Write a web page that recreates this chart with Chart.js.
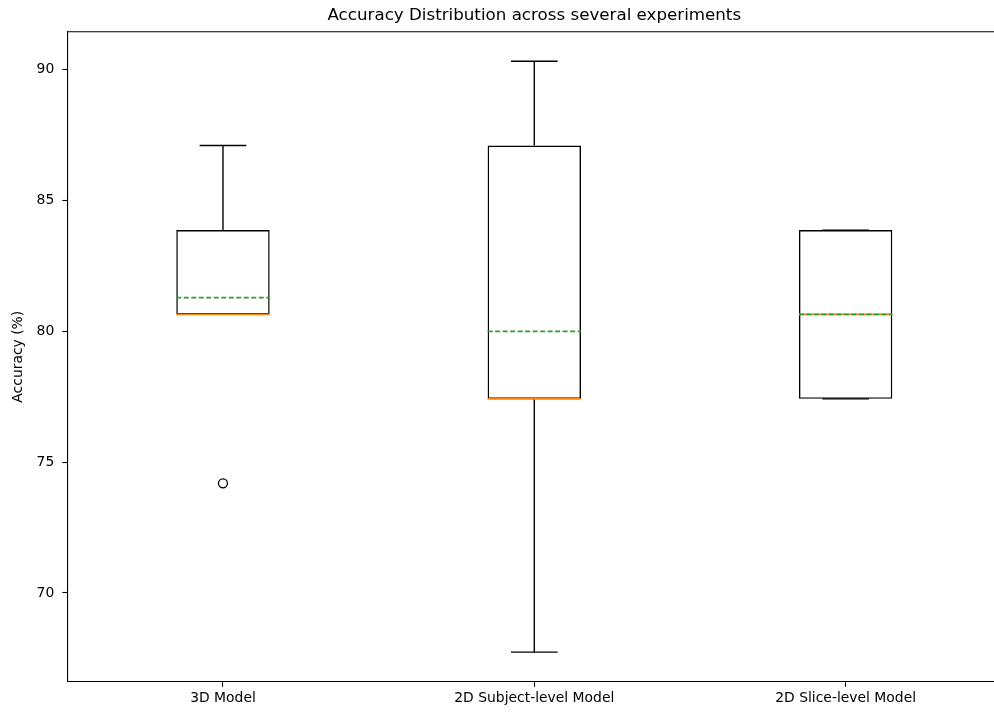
<!DOCTYPE html>
<html lang="en">
<head>
    <meta charset="UTF-8">
    <title>Accuracy Distribution</title>
    <script src="https://cdn.jsdelivr.net/npm/chart.js"></script>
    <style>
        body {
            margin: 0;
            overflow: hidden;
            background: #fff;
        }
        /* wider than the window: the right spine falls off the picture like in the original */
        .chart-box {
            width: 1010px;
            height: 713px;
        }
    </style>
</head>
<body>
    <div class="chart-box">
        <canvas id="boxChart"></canvas>
    </div>

    <script>
        const categories = ['3D Model', '2D Subject-level Model', '2D Slice-level Model'];
        const whiskerLow = [80.65, 67.74, 77.42];
        const q1 = [80.65, 77.42, 77.42];
        const median = [80.65, 77.42, 80.65];
        const q3 = [83.87, 87.10, 83.87];
        const whiskerHigh = [87.10, 90.32, 83.87];
        const means = [81.29, 80.00, 80.65];
        const outliers = [[74.19], [], []];
        const yTicks = [70, 75, 80, 85, 90];
        const yMin = 66.61;
        const yMax = 91.45;

        const boxWidth = 0.3;  // in category units, like matplotlib default
        const capWidth = 0.15;

        const font = "'DejaVu Sans', sans-serif";

        // whiskers, caps, median and mean lines + top spine
        const boxParts = {
            id: 'boxParts',
            afterDatasetsDraw(chart) {
                const ctx = chart.ctx;
                const xs = chart.scales.x;
                const ys = chart.scales.y;
                const unit = xs.getPixelForValue(1) - xs.getPixelForValue(0);
                const area = chart.chartArea;

                ctx.save();
                categories.forEach((c, i) => {
                    const x = xs.getPixelForValue(i);
                    const bx0 = x - unit * boxWidth / 2, bx1 = x + unit * boxWidth / 2;
                    const cx0 = x - unit * capWidth / 2, cx1 = x + unit * capWidth / 2;

                    ctx.strokeStyle = '#000';
                    ctx.lineWidth = 1.4;
                    ctx.setLineDash([]);
                    ctx.beginPath();
                    ctx.moveTo(x, ys.getPixelForValue(q3[i]));
                    ctx.lineTo(x, ys.getPixelForValue(whiskerHigh[i]));
                    ctx.moveTo(x, ys.getPixelForValue(q1[i]));
                    ctx.lineTo(x, ys.getPixelForValue(whiskerLow[i]));
                    ctx.moveTo(cx0, ys.getPixelForValue(whiskerHigh[i]));
                    ctx.lineTo(cx1, ys.getPixelForValue(whiskerHigh[i]));
                    ctx.moveTo(cx0, ys.getPixelForValue(whiskerLow[i]));
                    ctx.lineTo(cx1, ys.getPixelForValue(whiskerLow[i]));
                    ctx.stroke();

                    ctx.strokeStyle = '#ff7f0e';
                    ctx.lineWidth = 1.8;
                    ctx.beginPath();
                    ctx.moveTo(bx0, ys.getPixelForValue(median[i]));
                    ctx.lineTo(bx1, ys.getPixelForValue(median[i]));
                    ctx.stroke();

                    ctx.strokeStyle = '#2ca02c';
                    ctx.lineWidth = 1.6;
                    ctx.setLineDash([5, 2.5]);
                    ctx.beginPath();
                    ctx.moveTo(bx0, ys.getPixelForValue(means[i]));
                    ctx.lineTo(bx1, ys.getPixelForValue(means[i]));
                    ctx.stroke();
                });

                ctx.setLineDash([]);
                ctx.strokeStyle = '#000';
                ctx.lineWidth = 1.1;
                ctx.beginPath();
                ctx.moveTo(area.left, area.top);
                ctx.lineTo(area.right + 2, area.top);
                ctx.stroke();
                ctx.restore();
            }
        };

        const outlierPoints = [];
        outliers.forEach((list, i) => {
            list.forEach(v => outlierPoints.push({ x: categories[i], y: v }));
        });

        new Chart(document.getElementById('boxChart'), {
            type: 'bar',
            data: {
                labels: categories,
                datasets: [{
                    label: 'IQR',
                    data: categories.map((c, i) => [q1[i], q3[i]]),
                    backgroundColor: 'rgba(0,0,0,0)',
                    borderColor: '#000',
                    borderWidth: 1.4,
                    borderSkipped: false,
                    barPercentage: boxWidth,
                    categoryPercentage: 1.0
                }, {
                    type: 'scatter',
                    label: 'outliers',
                    data: outlierPoints,
                    pointStyle: 'circle',
                    pointRadius: 4.5,
                    borderColor: '#000',
                    borderWidth: 1.3,
                    backgroundColor: 'rgba(0,0,0,0)'
                }]
            },
            options: {
                responsive: true,
                maintainAspectRatio: false,
                animation: false,
                layout: {
                    padding: { left: 0, right: 8.7, top: 0, bottom: 0 }
                },
                plugins: {
                    legend: { display: false },
                    tooltip: { enabled: false },
                    title: {
                        display: true,
                        text: 'Accuracy Distribution across several experiments',
                        fullSize: false,
                        color: '#000',
                        font: { family: font, size: 16.7, weight: 'normal' },
                        padding: { top: 6, bottom: 5.7 }
                    }
                },
                scales: {
                    x: {
                        offset: true,
                        grid: {
                            offset: false,
                            drawOnChartArea: false,
                            drawTicks: true,
                            tickLength: 5,
                            tickWidth: 1.1,
                            color: '#000'
                        },
                        border: { display: true, color: '#000', width: 1.1 },
                        ticks: {
                            color: '#000',
                            padding: 3,
                            maxRotation: 0,
                            font: { family: font, size: 13.9 }
                        },
                        afterFit(scale) {
                            scale.height = 31.3;
                        }
                    },
                    y: {
                        min: yMin,
                        max: yMax,
                        grid: {
                            drawOnChartArea: false,
                            drawTicks: true,
                            tickLength: 5,
                            tickWidth: 1.1,
                            color: '#000'
                        },
                        border: { display: true, color: '#000', width: 1.1 },
                        ticks: {
                            color: '#000',
                            padding: 8,
                            font: { family: font, size: 13.9 }
                        },
                        afterBuildTicks(scale) {
                            scale.ticks = yTicks.map(v => ({ value: v }));
                        },
                        title: {
                            display: true,
                            text: 'Accuracy (%)',
                            color: '#000',
                            font: { family: font, size: 13.9 },
                            padding: { top: 10, bottom: 0 }
                        },
                        afterFit(scale) {
                            scale.width = 67.3;
                        }
                    }
                }
            },
            plugins: [boxParts]
        });
    </script>
</body>
</html>
